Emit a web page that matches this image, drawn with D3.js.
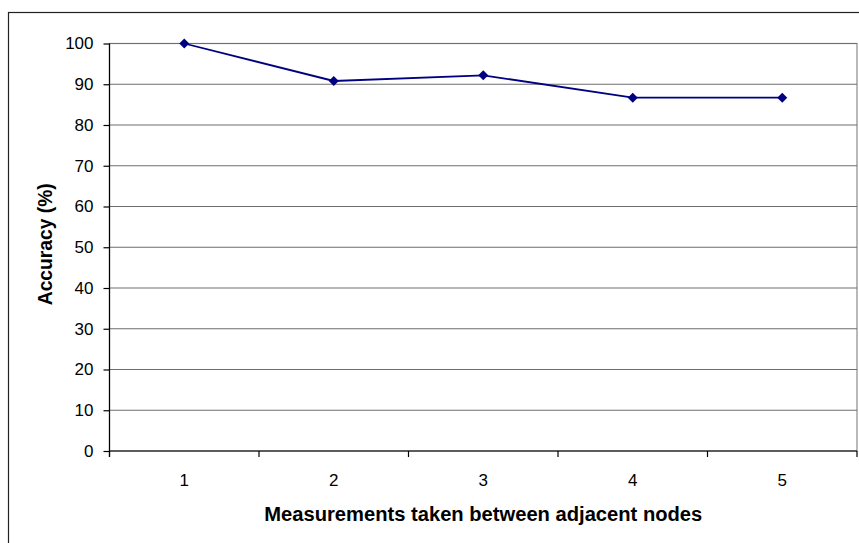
<!DOCTYPE html>
<html>
<head>
<meta charset="utf-8">
<script src="https://cdn.jsdelivr.net/npm/d3@7"></script>
<style>
  body { margin: 0; background: #fff; }
  svg { display: block; font-family: Arial, "Liberation Sans", sans-serif; }
</style>
</head>
<body>
<svg id="chart" width="859" height="543"></svg>
<script>
const categories = ['1', '2', '3', '4', '5'];
const accuracy = [100, 90.8, 92.2, 86.7, 86.7];
const yTicks = [0, 10, 20, 30, 40, 50, 60, 70, 80, 90, 100];

const margin = { top: 43.5, left: 109.5 };
const width = 857 - margin.left;
const height = 451 - margin.top;

const svg = d3.select('#chart');

// outer chart frame (runs off the right and bottom edges)
svg.append('rect')
  .attr('x', 8.5).attr('y', 12.5)
  .attr('width', 900).attr('height', 600)
  .attr('fill', 'none').attr('stroke', '#222').attr('stroke-width', 1.2);

const g = svg.append('g').attr('transform', `translate(${margin.left},${margin.top})`);

const x = d3.scaleBand().domain(categories).range([0, width]);
const y = d3.scaleLinear().domain([0, 100]).range([height, 0]);

// plot area border
g.append('rect')
  .attr('width', width).attr('height', height)
  .attr('fill', 'none').attr('stroke', '#8a8a8a').attr('stroke-width', 1.2);

// gridlines
g.selectAll('.grid').data(yTicks.filter(t => t > 0)).join('line')
  .attr('x1', 0).attr('x2', width)
  .attr('y1', d => y(d)).attr('y2', d => y(d))
  .attr('stroke', '#6e6e6e').attr('stroke-width', 1.2);

// y axis
const yAxis = g.append('g')
  .call(d3.axisLeft(y).tickValues(yTicks).tickSize(6).tickPadding(10));
yAxis.select('.domain').attr('stroke', '#000').attr('stroke-width', 1.2)
  .attr('d', `M0,${height + 6}V0`);
yAxis.selectAll('.tick line').attr('stroke', '#000').attr('stroke-width', 1.2);
yAxis.selectAll('.tick text').attr('font-size', 17).attr('fill', '#000')
  .attr('font-family', 'Arial, "Liberation Sans", sans-serif');

// x axis: ticks on category boundaries
const xAxis = g.append('g').attr('transform', `translate(0,${height})`);
xAxis.append('line').attr('x1', 0).attr('x2', width)
  .attr('stroke', '#000').attr('stroke-width', 1.2);
const bounds = categories.map(c => x(c)).concat([width]);
xAxis.selectAll('.xt').data(bounds).join('line')
  .attr('x1', d => d).attr('x2', d => d).attr('y1', 0).attr('y2', 6)
  .attr('stroke', '#000').attr('stroke-width', 1.2);
xAxis.selectAll('.xl').data(categories).join('text')
  .attr('x', d => x(d) + x.bandwidth() / 2).attr('y', 35)
  .attr('text-anchor', 'middle').attr('font-size', 17).text(d => d);

// series line
const pts = categories.map((c, i) => [x(c) + x.bandwidth() / 2, y(accuracy[i])]);
g.append('path')
  .attr('d', d3.line()(pts))
  .attr('fill', 'none').attr('stroke', '#000080').attr('stroke-width', 1.8);

g.selectAll('.mk').data(pts).join('path')
  .attr('transform', d => `translate(${d[0]},${d[1]})`)
  .attr('d', 'M0,-5L5,0L0,5L-5,0Z')
  .attr('fill', '#000080');

// axis titles
svg.append('text')
  .attr('x', margin.left + width / 2).attr('y', 521)
  .attr('text-anchor', 'middle').attr('font-size', 20).attr('font-weight', 'bold')
  .attr('textLength', 438).attr('lengthAdjust', 'spacingAndGlyphs')
  .text('Measurements taken between adjacent nodes');

svg.append('text')
  .attr('transform', `translate(52,${margin.top + height / 2 - 3}) rotate(-90)`)
  .attr('text-anchor', 'middle').attr('font-size', 19.5).attr('font-weight', 'bold')
  .attr('textLength', 122).attr('lengthAdjust', 'spacingAndGlyphs')
  .text('Accuracy (%)');
</script>
</body>
</html>
